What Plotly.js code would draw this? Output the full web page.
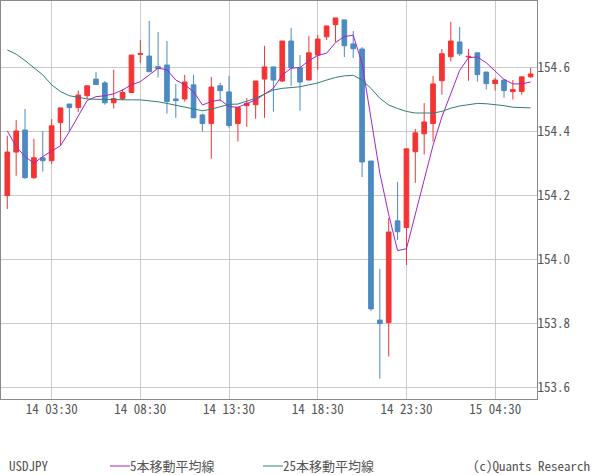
<!DOCTYPE html>
<html>
<head>
<meta charset="utf-8">
<script src="https://cdn.plot.ly/plotly-3.0.1.min.js"></script>
<style>
html,body{margin:0;padding:0;background:#fff;}
#chart{width:600px;height:475px;}
</style>
</head>
<body>
<div id="chart"></div>
<script>
// ---- data ----
const times = [
  "14 01:00","14 01:30","14 02:00","14 02:30","14 03:00","14 03:30","14 04:00","14 04:30","14 05:00","14 05:30",
  "14 06:00","14 06:30","14 07:00","14 07:30","14 08:00","14 08:30","14 09:00","14 09:30","14 10:00","14 10:30",
  "14 11:00","14 11:30","14 12:00","14 12:30","14 13:00","14 13:30","14 14:00","14 14:30","14 15:00","14 15:30",
  "14 16:00","14 16:30","14 17:00","14 17:30","14 18:00","14 18:30","14 19:00","14 19:30","14 20:00","14 20:30",
  "14 21:00","14 21:30","14 22:00","14 22:30","14 23:00","14 23:30","15 00:00","15 00:30","15 01:00","15 01:30",
  "15 02:00","15 02:30","15 03:00","15 03:30","15 04:00","15 04:30","15 05:00","15 05:30","15 06:00","15 06:30"
];
const openP = [
  154.199,154.335,154.404,154.255,154.317,154.308,154.427,154.485,154.474,154.511,
  154.563,154.551,154.489,154.502,154.521,154.640,154.635,154.602,154.607,154.501,
  154.501,154.545,154.451,154.424,154.542,154.523,154.424,154.480,154.483,154.563,
  154.601,154.557,154.682,154.598,154.560,154.638,154.695,154.733,154.748,154.673,
  154.657,154.307,153.810,153.802,154.120,154.099,154.336,154.392,154.424,154.558,
  154.633,154.679,154.632,154.645,154.585,154.549,154.560,154.524,154.524,154.570
];
const highP = [
  154.386,154.435,154.470,154.376,154.401,154.438,154.473,154.485,154.527,154.542,
  154.585,154.557,154.592,154.531,154.638,154.685,154.745,154.710,154.682,154.548,
  154.576,154.576,154.455,154.570,154.551,154.573,154.474,154.504,154.557,154.667,
  154.601,154.682,154.723,154.638,154.698,154.701,154.729,154.754,154.748,154.713,
  154.663,154.307,153.970,154.129,154.242,154.345,154.407,154.488,154.573,154.657,
  154.742,154.726,154.657,154.645,154.585,154.567,154.560,154.560,154.570,154.598
];
const lowP = [
  154.157,154.261,154.251,154.251,154.274,154.297,154.355,154.399,154.460,154.501,
  154.546,154.483,154.471,154.496,154.521,154.613,154.586,154.568,154.455,154.442,
  154.493,154.442,154.399,154.314,154.493,154.411,154.368,154.414,154.439,154.442,
  154.461,154.554,154.542,154.464,154.560,154.592,154.685,154.679,154.632,154.629,
  154.257,153.839,153.627,153.696,154.060,153.982,154.239,154.327,154.368,154.514,
  154.618,154.635,154.558,154.555,154.530,154.527,154.505,154.499,154.514,154.567
];
const closeP = [
  154.335,154.401,154.255,154.317,154.308,154.417,154.473,154.474,154.513,154.542,
  154.546,154.489,154.502,154.521,154.638,154.643,154.586,154.596,154.493,154.496,
  154.554,154.442,154.424,154.538,154.527,154.418,154.474,154.487,154.557,154.601,
  154.560,154.682,154.598,154.554,154.645,154.688,154.729,154.754,154.667,154.658,
  154.304,153.845,153.799,154.085,154.086,154.345,154.395,154.429,154.548,154.642,
  154.682,154.642,154.634,154.577,154.549,154.560,154.527,154.530,154.570,154.579
];
const ma5 = [
  154.401,154.352,154.321,154.300,154.321,154.339,154.355,154.399,154.446,154.496,
  154.508,154.511,154.517,154.529,154.545,154.555,154.576,154.597,154.592,154.560,
  154.545,154.524,154.482,154.493,154.498,154.477,154.475,154.487,154.498,154.516,
  154.534,154.576,154.597,154.599,154.620,154.637,154.644,154.677,154.696,154.700,
  154.612,154.441,154.269,154.140,154.027,154.033,154.140,154.250,154.356,154.445,
  154.520,154.590,154.630,154.632,154.614,154.588,154.562,154.548,154.548,154.554
];
const ma25 = [
  154.654,154.641,154.621,154.599,154.576,154.545,154.524,154.511,154.505,154.501,
  154.500,154.499,154.499,154.499,154.498,154.498,154.496,154.492,154.487,154.481,
  154.475,154.469,154.464,154.469,154.477,154.484,154.485,154.493,154.503,154.516,
  154.529,154.534,154.537,154.539,154.545,154.551,154.560,154.568,154.573,154.575,
  154.560,154.534,154.503,154.482,154.471,154.462,154.457,154.456,154.457,154.462,
  154.472,154.479,154.484,154.487,154.486,154.484,154.480,154.475,154.474,154.473
];
const xTickVals = ["14 03:30","14 08:30","14 13:30","14 18:30","14 23:30","15 04:30"];
const yTickVals = [153.6,153.8,154.0,154.2,154.4,154.6];
const yTickText = ["153.6","153.8","154.0","154.2","154.4","154.6"];
const seriesName = "USDJPY";
const ma5Name = "5本移動平均線";
const ma25Name = "25本移動平均線";
const credit = "(c)Quants Research";

// ---- style ----
const RED = "#f43434";
const BLUE = "#4d8ac2";
const PURPLE = "#a424c8";
const TEAL = "#2e7f78";
const GRID = "#cbcbcb";
const BORDER = "#8a8a8a";
const TXT = "#555555";
const FONT = '"Noto Sans Mono CJK JP", "DejaVu Sans Mono", "Noto Sans CJK JP", monospace';

const traces = [
  {
    type: "candlestick", x: times, open: openP, high: highP, low: lowP, close: closeP,
    increasing: {line: {color: RED, width: 1}, fillcolor: RED},
    decreasing: {line: {color: BLUE, width: 1}, fillcolor: BLUE},
    whiskerwidth: 0, name: seriesName, showlegend: false, hoverinfo: "skip"
  },
  {type: "scatter", mode: "lines", x: times, y: ma5, line: {color: PURPLE, width: 1}, name: ma5Name, showlegend: false, hoverinfo: "skip"},
  {type: "scatter", mode: "lines", x: times, y: ma25, line: {color: TEAL, width: 1}, name: ma25Name, showlegend: false, hoverinfo: "skip"}
];

// plot area: x 1..537, y 1..399 (px)
const px = v => (v - 1) / 536;
const py = v => (399 - v) / 398;
const legY = 465.5;

const layout = {
  width: 600, height: 475,
  margin: {l: 1, r: 63, t: 1, b: 76, pad: 0},
  paper_bgcolor: "#ffffff", plot_bgcolor: "#ffffff",
  showlegend: false,
  boxgap: 0.25,
  hovermode: false,
  font: {family: FONT, size: 13, color: TXT},
  xaxis: {
    type: "category", categoryorder: "array", categoryarray: times,
    range: [-0.71, 59.72],
    tickmode: "array", tickvals: xTickVals, ticktext: xTickVals,
    showgrid: true, gridcolor: GRID, gridwidth: 1,
    showline: true, mirror: true, linecolor: BORDER, linewidth: 1,
    ticks: "", zeroline: false,
    rangeslider: {visible: false},
    tickfont: {family: FONT, size: 13, color: TXT},
    ticklabelstandoff: -2,
    fixedrange: true
  },
  yaxis: {
    side: "right", range: [153.5634, 154.807],
    tickmode: "array", tickvals: yTickVals, ticktext: yTickText,
    showgrid: true, gridcolor: GRID, gridwidth: 1,
    showline: true, mirror: true, linecolor: BORDER, linewidth: 1,
    ticks: "", zeroline: false,
    tickfont: {family: FONT, size: 13, color: TXT},
    ticklabelstandoff: -3,
    fixedrange: true
  },
  shapes: [
    {type: "line", xref: "paper", yref: "paper", x0: px(110), x1: px(130), y0: py(466), y1: py(466), line: {color: PURPLE, width: 1}},
    {type: "line", xref: "paper", yref: "paper", x0: px(263), x1: px(283), y0: py(466), y1: py(466), line: {color: TEAL, width: 1}}
  ],
  annotations: [
    {xref: "paper", yref: "paper", x: px(8), y: py(legY), xanchor: "left", yanchor: "middle", text: seriesName, showarrow: false, font: {family: FONT, size: 13, color: TXT}, borderpad: 0},
    {xref: "paper", yref: "paper", x: px(129), y: py(legY), xanchor: "left", yanchor: "middle", text: ma5Name, showarrow: false, font: {family: FONT, size: 13, color: TXT}, borderpad: 0},
    {xref: "paper", yref: "paper", x: px(282), y: py(legY), xanchor: "left", yanchor: "middle", text: ma25Name, showarrow: false, font: {family: FONT, size: 13, color: TXT}, borderpad: 0},
    {xref: "paper", yref: "paper", x: px(591), y: py(legY), xanchor: "right", yanchor: "middle", text: credit, showarrow: false, font: {family: FONT, size: 13, color: TXT}, borderpad: 0}
  ]
};

Plotly.newPlot("chart", traces, layout, {displayModeBar: false, staticPlot: true});
</script>
</body>
</html>
